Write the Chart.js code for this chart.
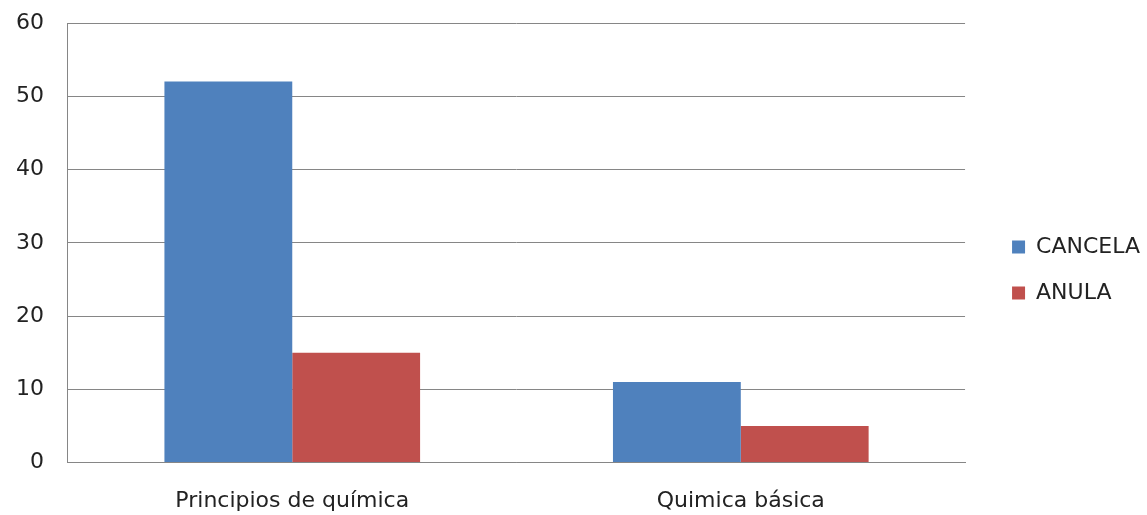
<!DOCTYPE html>
<html>
<head>
<meta charset="utf-8">
<script src="https://cdn.jsdelivr.net/npm/chart.js@4/dist/chart.umd.min.js"></script>
<style>
  html, body { margin: 0; padding: 0; background: #fff; }
  #wrap { width: 1147px; height: 515px; }
</style>
</head>
<body>
<div id="wrap"><canvas id="c"></canvas></div>
<script>
// Cursos de química: solicitudes por tipo
const categories = ['Principios de química', 'Quimica básica'];
const cancela = [52, 11];
const anula = [15, 5];
const yTicks = [0, 10, 20, 30, 40, 50, 60];

const FONT = '"DejaVu Sans", Verdana, sans-serif';
const AXIS = '#868686';
const LEGEND_GAP = 23;
const LEGEND_DY = -11;

// Leaves a little extra space between the plot and the legend column
const legendGap = {
  id: 'legendGap',
  afterLayout(chart) {
    const lg = chart.legend;
    if (!lg) return;
    const w = lg.right - lg.left;
    lg.left = chart.chartArea.right + LEGEND_GAP;
    lg.right = lg.left + w;
    lg.top += LEGEND_DY;
    lg.bottom += LEGEND_DY;
  }
};

new Chart(document.getElementById('c'), {
  type: 'bar',
  data: {
    labels: categories,
    datasets: [
      { label: 'CANCELA', data: cancela, backgroundColor: '#4F81BD', borderWidth: 0 },
      { label: 'ANULA', data: anula, backgroundColor: '#C0504D', borderWidth: 0 }
    ]
  },
  plugins: [legendGap],
  options: {
    responsive: true,
    maintainAspectRatio: false,
    animation: false,
    layout: { padding: { top: 23, left: -8, right: 20, bottom: -24 } },
    datasets: { bar: { barPercentage: 1.0, categoryPercentage: 0.57 } },
    plugins: {
      tooltip: { enabled: false },
      legend: {
        position: 'right',
        align: 'center',
        labels: {
          boxWidth: 13,
          boxHeight: 13,
          padding: 24,
          color: '#222',
          font: { family: FONT, size: 22 }
        }
      }
    },
    scales: {
      x: {
        grid: { display: false, drawTicks: false },
        border: { display: true, color: AXIS, width: 1 },
        ticks: { color: '#222', padding: 25, font: { family: FONT, size: 22 } }
      },
      y: {
        min: 0,
        max: 60,
        afterBuildTicks: (axis) => { axis.ticks = yTicks.map(v => ({ value: v })); },
        // the top label may overhang the plot edge; no reserve needed above it
        afterFit: (axis) => { axis.paddingTop = 0; },
        grid: { color: AXIS, lineWidth: 1, drawTicks: false },
        border: { display: true, color: AXIS, width: 1 },
        ticks: { color: '#222', padding: 24, font: { family: FONT, size: 22 } }
      }
    }
  }
});
</script>
</body>
</html>
